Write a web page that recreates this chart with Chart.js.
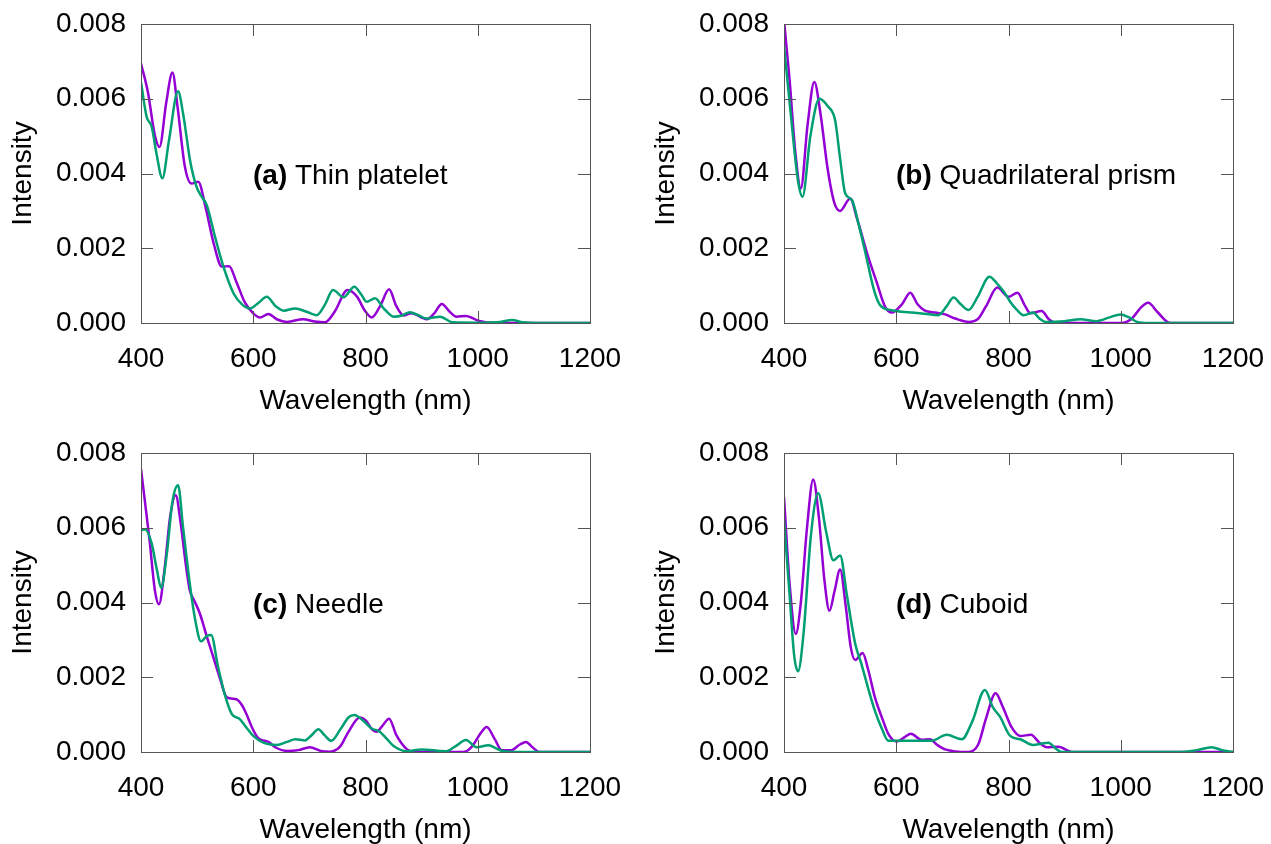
<!DOCTYPE html>
<html>
<head>
<meta charset="utf-8">
<script src="https://cdn.jsdelivr.net/npm/chart.js@4.4.1/dist/chart.umd.min.js"></script>
<style>
  html, body { margin: 0; padding: 0; background: #fff; overflow: hidden; }
  .panel { position: absolute; width: 628px; height: 422px; }
</style>
</head>
<body>
<div class="panel" style="left:0;top:0"><canvas id="chart-a"></canvas></div>
<div class="panel" style="left:643px;top:0"><canvas id="chart-b"></canvas></div>
<div class="panel" style="left:0;top:429px"><canvas id="chart-c"></canvas></div>
<div class="panel" style="left:643px;top:429px"><canvas id="chart-d"></canvas></div>
<script>
// axis ticks
const xTicks = [400, 600, 800, 1000, 1200];
const yTicks = [0.000, 0.002, 0.004, 0.006, 0.008];

// (a) Thin platelet, values in units of 1e-3
const aPurpleNm = [400, 412, 425, 433, 445, 456, 465, 478, 490, 502, 515, 530, 544, 557, 570, 585, 600, 612, 627, 642, 660, 689, 710, 728, 745, 768, 785, 798, 811, 826, 842, 855, 868, 882, 909, 922, 936, 950, 962, 979, 1001, 1030, 1200];
const aPurple = [6.94, 6.2, 5.0, 4.71, 5.9, 6.70, 5.8, 4.2, 3.73, 3.78, 3.1, 2.1, 1.51, 1.52, 1.1, 0.55, 0.26, 0.15, 0.24, 0.1, 0.03, 0.1, 0.04, 0.02, 0.3, 0.88, 0.7, 0.35, 0.15, 0.45, 0.9, 0.45, 0.2, 0.26, 0.1, 0.25, 0.51, 0.3, 0.17, 0.19, 0.06, 0, 0];
const aGreenNm = [400, 410, 419, 428, 438, 450, 466, 475, 488, 499, 508, 517, 532, 547, 565, 580, 594, 610, 624, 640, 654, 675, 695, 713, 728, 742, 761, 780, 793, 802, 817, 832, 850, 865, 879, 895, 909, 933, 955, 1000, 1040, 1061, 1080, 1110, 1200];
const aGreen = [6.44, 5.52, 5.25, 4.5, 3.87, 4.9, 6.2, 5.6, 4.3, 3.64, 3.38, 3.16, 2.3, 1.5, 0.79, 0.5, 0.39, 0.55, 0.70, 0.45, 0.33, 0.39, 0.3, 0.21, 0.5, 0.88, 0.69, 0.97, 0.75, 0.57, 0.66, 0.4, 0.17, 0.2, 0.29, 0.2, 0.12, 0.17, 0.02, 0.01, 0.03, 0.08, 0.02, 0, 0];

// (b) Quadrilateral prism
const bPurpleNm = [400, 410, 420, 430, 442, 454, 465, 478, 490, 500, 518, 530, 550, 565, 580, 592, 610, 625, 638, 651, 670, 687, 705, 729, 745, 760, 780, 800, 816, 828, 839, 859, 872, 884, 1000, 1020, 1035, 1049, 1065, 1088, 1200];
const bPurple = [8.1, 6.5, 4.6, 3.6, 5.3, 6.45, 5.6, 4.1, 3.2, 3.0, 3.33, 2.8, 1.77, 1.1, 0.44, 0.28, 0.5, 0.81, 0.5, 0.33, 0.28, 0.23, 0.12, 0.03, 0.1, 0.45, 0.95, 0.70, 0.81, 0.5, 0.26, 0.32, 0.1, 0, 0, 0.12, 0.4, 0.54, 0.3, 0, 0];
const bGreenNm = [400, 412, 425, 433, 447, 463, 478, 491, 500, 509, 521, 532, 544, 560, 571, 589, 610, 628, 650, 675, 690, 702, 715, 729, 745, 766, 780, 794, 803, 815, 827, 844, 855, 866, 900, 928, 957, 980, 999, 1015, 1029, 1050, 1200];
const bGreen = [7.43, 5.6, 3.8, 3.38, 5.0, 6.0, 5.8, 5.43, 4.4, 3.47, 3.29, 2.7, 1.95, 0.9, 0.48, 0.35, 0.3, 0.28, 0.25, 0.21, 0.45, 0.68, 0.5, 0.35, 0.7, 1.24, 1.05, 0.79, 0.57, 0.35, 0.21, 0.28, 0.12, 0.03, 0.05, 0.1, 0.05, 0.15, 0.23, 0.15, 0.03, 0, 0];

// (c) Needle
const cPurpleNm = [400, 415, 425, 432, 442, 452, 462, 470, 480, 487, 495, 505, 517, 529, 541, 553, 570, 580, 588, 598, 609, 627, 640, 660, 680, 701, 720, 737, 755, 770, 790, 800, 812, 820, 830, 842, 855, 874, 890, 975, 990, 1005, 1016, 1030, 1043, 1060, 1075, 1086, 1098, 1110, 1200];
const cPurple = [7.57, 5.7, 4.3, 3.95, 4.9, 6.3, 6.87, 6.2, 5.0, 4.32, 4.05, 3.7, 3.1, 2.53, 1.95, 1.46, 1.41, 1.25, 1.01, 0.65, 0.37, 0.27, 0.12, 0.03, 0.05, 0.13, 0.03, 0.01, 0.15, 0.55, 0.92, 0.85, 0.6, 0.54, 0.7, 0.89, 0.45, 0.07, 0, 0, 0.15, 0.5, 0.67, 0.35, 0.05, 0.05, 0.2, 0.27, 0.12, 0, 0];
const cGreenNm = [400, 407, 419, 428, 436, 446, 456, 466, 475, 487, 497, 507, 517, 525, 537, 550, 562, 576, 588, 600, 618, 642, 660, 675, 692, 704, 716, 727, 739, 755, 770, 780, 795, 811, 825, 838, 850, 874, 900, 943, 960, 979, 998, 1019, 1035, 1046, 1070, 1200];
const cGreen = [5.93, 5.96, 5.58, 4.9, 4.39, 5.3, 6.7, 7.14, 6.0, 4.5, 3.5, 2.96, 3.1, 3.13, 2.3, 1.5, 1.01, 0.88, 0.65, 0.43, 0.25, 0.19, 0.27, 0.34, 0.31, 0.45, 0.61, 0.45, 0.3, 0.6, 0.93, 0.99, 0.85, 0.63, 0.55, 0.35, 0.16, 0.02, 0.07, 0.02, 0.15, 0.32, 0.13, 0.18, 0.08, 0.02, 0, 0];

// (d) Cuboid
const dPurpleNm = [400, 410, 421, 430, 441, 452, 462, 472, 481, 490, 500, 510, 519, 527, 540, 550, 562, 575, 586, 601, 615, 626, 645, 660, 672, 687, 729, 746, 760, 777, 790, 806, 821, 840, 855, 868, 889, 913, 1200];
const dPurple = [6.83, 4.5, 3.16, 4.0, 6.0, 7.29, 6.3, 4.6, 3.78, 4.3, 4.88, 3.9, 2.8, 2.46, 2.65, 2.2, 1.46, 0.9, 0.48, 0.28, 0.4, 0.49, 0.33, 0.34, 0.2, 0.07, 0, 0.2, 0.9, 1.57, 1.2, 0.65, 0.43, 0.46, 0.25, 0.13, 0.14, 0, 0];
const dGreenNm = [400, 410, 418, 425, 435, 448, 461, 475, 488, 500, 512, 527, 538, 550, 562, 575, 586, 610, 663, 690, 717, 735, 758, 772, 785, 803, 821, 844, 858, 871, 885, 895, 1100, 1136, 1162, 1180, 1200];
const dGreen = [6.22, 4.2, 2.6, 2.16, 3.2, 5.8, 6.92, 5.9, 5.13, 5.26, 4.2, 2.89, 2.35, 1.7, 1.10, 0.6, 0.3, 0.3, 0.3, 0.46, 0.34, 0.8, 1.66, 1.2, 0.94, 0.43, 0.34, 0.19, 0.22, 0.25, 0.08, 0, 0, 0.05, 0.13, 0.05, 0];

const PURPLE = '#9400d3';
const GREEN = '#009e73';
const FONT = 'Liberation Sans, Arial, sans-serif';

var points = function(nm, vals) {
  return nm.map((x, i) => ({ x: x, y: vals[i] / 1000 }));
};

// inward ticks on all four sides plus the frame
var frame = {
  id: 'frame',
  afterDatasetsDraw(chart) {
    const { ctx, chartArea: a, scales } = chart;
    const len = 12;
    ctx.save();
    ctx.strokeStyle = '#555';
    ctx.lineWidth = 1;
    ctx.beginPath();
    xTicks.forEach(v => {
      const px = Math.round(scales.x.getPixelForValue(v)) + 0.5;
      ctx.moveTo(px, a.bottom); ctx.lineTo(px, a.bottom - len);
      ctx.moveTo(px, a.top); ctx.lineTo(px, a.top + len);
    });
    yTicks.forEach(v => {
      const py = Math.round(scales.y.getPixelForValue(v)) + 0.5;
      ctx.moveTo(a.left, py); ctx.lineTo(a.left + len, py);
      ctx.moveTo(a.right, py); ctx.lineTo(a.right - len, py);
    });
    ctx.stroke();
    ctx.strokeRect(Math.round(a.left) + 0.5, Math.round(a.top) + 0.5,
      Math.round(a.right - a.left), Math.round(a.bottom - a.top));
    ctx.restore();
  }
};

var label = {
  id: 'label',
  afterDraw(chart, args, opts) {
    const { ctx, chartArea: a } = chart;
    const x = a.left + 112;
    const y = a.top + 152;
    ctx.save();
    ctx.fillStyle = '#000';
    ctx.textBaseline = 'middle';
    ctx.font = 'bold 28px ' + FONT;
    ctx.fillText(opts.tag, x, y);
    const w = ctx.measureText(opts.tag).width;
    ctx.font = '28px ' + FONT;
    ctx.fillText(' ' + opts.name, x + w, y);
    ctx.restore();
  }
};

var Panel = function(id, tag, name, purpleNm, purple, greenNm, green) {
  new Chart(document.getElementById(id), {
    type: 'line',
    data: {
      datasets: [{
        data: points(purpleNm, purple),
        borderColor: PURPLE,
        borderWidth: 2.5,
        pointRadius: 0,
        cubicInterpolationMode: 'monotone',
        order: 1
      }, {
        data: points(greenNm, green),
        borderColor: GREEN,
        borderWidth: 2.5,
        pointRadius: 0,
        cubicInterpolationMode: 'monotone',
        order: 0
      }]
    },
    options: {
      responsive: true,
      maintainAspectRatio: false,
      animation: false,
      events: [],
      layout: { padding: { left: 0, right: 38, top: 24, bottom: 0 } },
      plugins: {
        legend: { display: false },
        tooltip: { enabled: false },
        label: { tag: tag, name: name }
      },
      scales: {
        x: {
          type: 'linear',
          min: 400,
          max: 1200,
          afterFit: s => { s.height = 99; s.paddingLeft = 0; s.paddingRight = 0; },
          afterBuildTicks: s => { s.ticks = xTicks.map(v => ({ value: v })); },
          grid: { display: false, drawTicks: false },
          border: { display: false },
          ticks: {
            color: '#000',
            padding: 19,
            maxRotation: 0,
            font: { family: FONT, size: 28 },
            callback: v => String(v)
          },
          title: {
            display: true,
            text: 'Wavelength (nm)',
            color: '#000',
            padding: { top: 0, bottom: 4 },
            font: { family: FONT, size: 28 }
          }
        },
        y: {
          min: 0,
          max: 0.008,
          afterFit: s => { s.width = 141; s.paddingTop = 0; s.paddingBottom = 0; },
          afterBuildTicks: s => { s.ticks = yTicks.map(v => ({ value: v })); },
          grid: { display: false, drawTicks: false },
          border: { display: false },
          ticks: {
            color: '#000',
            padding: 15,
            font: { family: FONT, size: 28 },
            callback: v => v.toFixed(3)
          },
          title: {
            display: true,
            text: 'Intensity',
            color: '#000',
            padding: { top: 6, bottom: 0 },
            font: { family: FONT, size: 28 }
          }
        }
      }
    },
    plugins: [frame, label]
  });
};

Panel('chart-a', '(a)', 'Thin platelet', aPurpleNm, aPurple, aGreenNm, aGreen);
Panel('chart-b', '(b)', 'Quadrilateral prism', bPurpleNm, bPurple, bGreenNm, bGreen);
Panel('chart-c', '(c)', 'Needle', cPurpleNm, cPurple, cGreenNm, cGreen);
Panel('chart-d', '(d)', 'Cuboid', dPurpleNm, dPurple, dGreenNm, dGreen);
</script>
</body>
</html>
